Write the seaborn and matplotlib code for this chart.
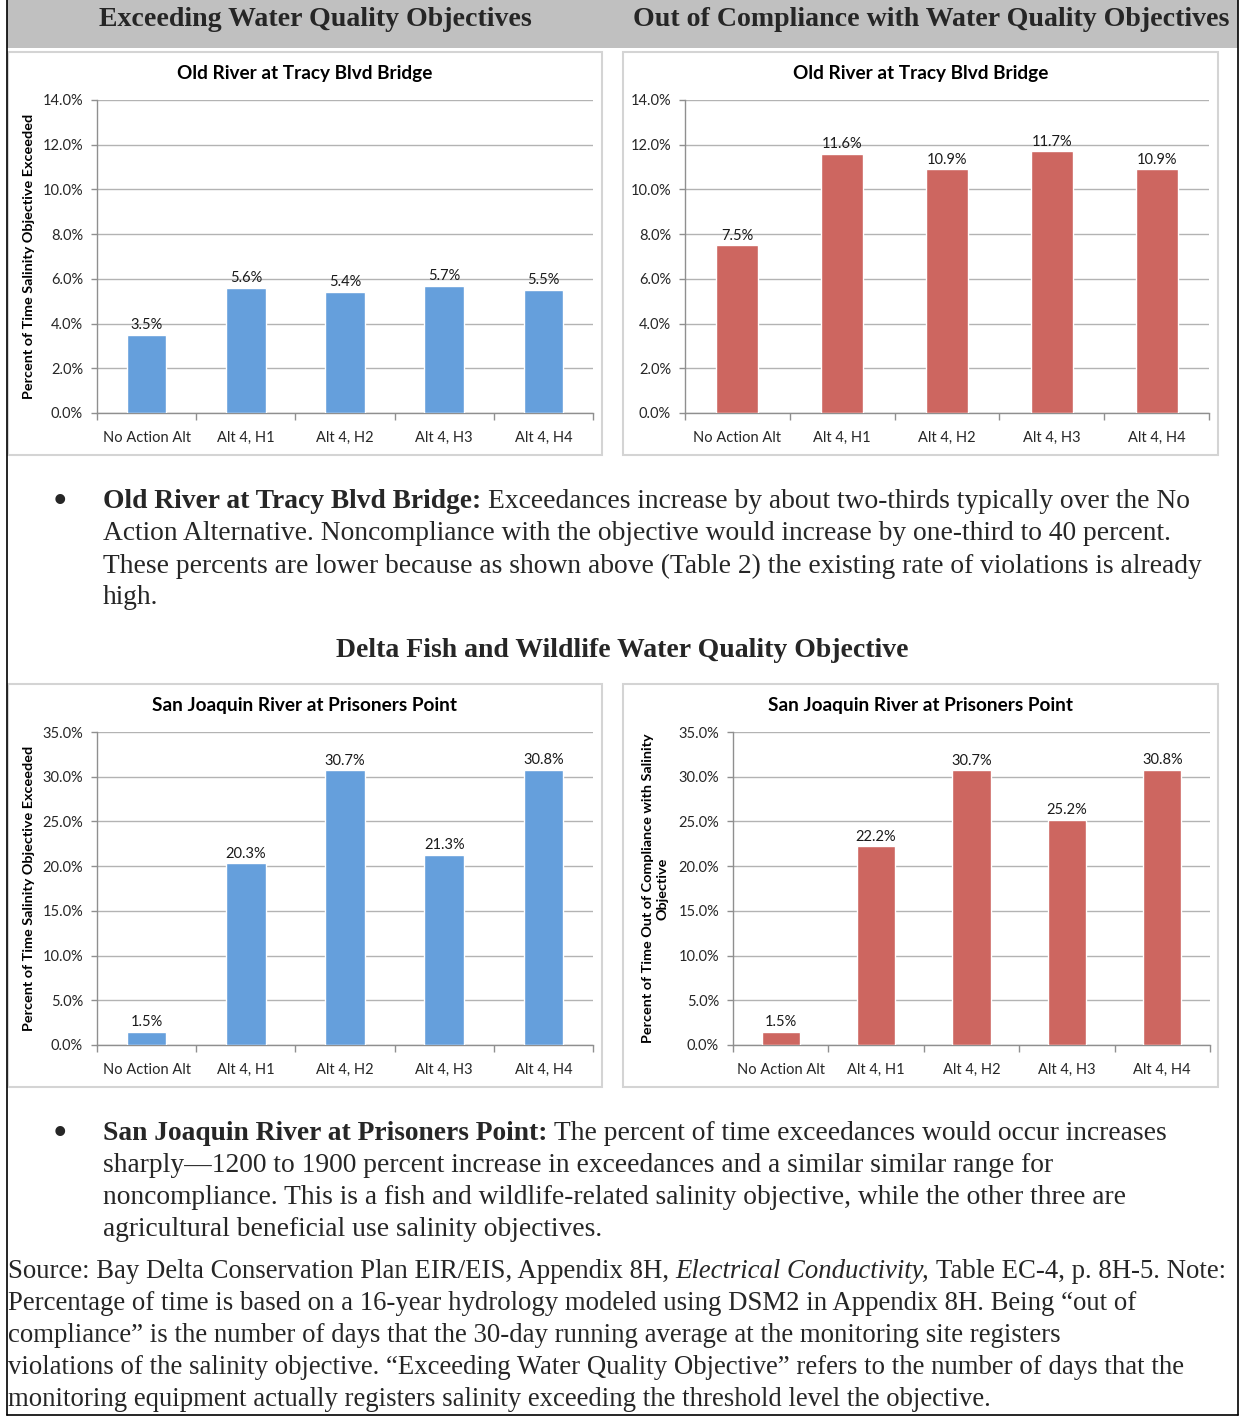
import matplotlib
matplotlib.use("Agg")
import matplotlib.pyplot as plt
import seaborn as sns
import pandas as pd
from matplotlib.patches import Rectangle
from matplotlib.lines import Line2D
from matplotlib.ticker import FuncFormatter, MultipleLocator

# chart data
categories = ["No Action Alt", "Alt 4, H1", "Alt 4, H2", "Alt 4, H3", "Alt 4, H4"]
tracy_exceed = [3.5, 5.6, 5.4, 5.7, 5.5]
tracy_noncomp = [7.5, 11.6, 10.9, 11.7, 10.9]
prisoners_exceed = [1.5, 20.3, 30.7, 21.3, 30.8]
prisoners_noncomp = [1.5, 22.2, 30.7, 25.2, 30.8]

BLUE = "#659FDC"
RED = "#CD6660"
SERIF = "Liberation Serif"
SANS = "Lato"

W, H = 1243, 1420

sns.set_theme(style="white")
plt.rcParams["font.family"] = [SANS, "DejaVu Sans"]

fig = plt.figure(figsize=(W / 100, H / 100), dpi=100)
fig.patch.set_facecolor("white")


def rect(x0, y0, x1, y1):
    # pixel box (top-left origin) -> figure fraction
    return [x0 / W, 1 - y1 / H, (x1 - x0) / W, (y1 - y0) / H]


def draw_chart(box, plot, values, color, ymax, step, title, ylabel, ylabel_x):
    bx0, by0, bx1, by1 = box
    fig.patches.append(Rectangle((bx0 / W, 1 - by1 / H), (bx1 - bx0) / W, (by1 - by0) / H,
                                 transform=fig.transFigure, facecolor="white",
                                 edgecolor="#d4d4d4", lw=1.5, zorder=-5))
    ax = fig.add_axes(rect(*plot))
    ax.patch.set_alpha(0)
    df = pd.DataFrame({"cat": categories, "val": values})
    sns.barplot(data=df, x="cat", y="val", color=color, saturation=1, width=0.4, ax=ax, zorder=3)
    ax.set_xlim(-0.5, len(categories) - 0.5)
    ax.set_ylim(0, ymax)
    ax.yaxis.set_major_locator(MultipleLocator(step))
    ax.yaxis.set_major_formatter(FuncFormatter(lambda v, p: f"{v:.1f}%"))
    ax.grid(axis="y", color="#b3b3b3", lw=1, zorder=0)
    ax.set_axisbelow(True)
    for s in ["top", "right"]:
        ax.spines[s].set_visible(False)
    for s in ["left", "bottom"]:
        ax.spines[s].set_color("#8f8f8f")
        ax.spines[s].set_linewidth(1)
    ax.tick_params(axis="y", length=4, width=1, color="#8f8f8f", pad=6, labelsize=10.5, left=True)
    ax.tick_params(axis="x", length=0, pad=13, labelsize=10.5)
    ax.set_xticks([i - 0.5 for i in range(len(categories) + 1)], minor=True)
    ax.tick_params(axis="x", which="minor", length=5, width=1, color="#8f8f8f", bottom=True)
    ax.set_xlabel("")
    ax.set_ylabel("")
    ax.bar_label(ax.containers[0], labels=[f"{v:.1f}%" for v in values], padding=2,
                 fontsize=10.5, color="#1a1a1a")
    fig.text((bx0 + bx1) / 2 / W, 1 - (by0 + 21) / H, title, ha="center", va="center",
             fontsize=13.7, fontweight="bold", color="black")
    cy = (plot[1] + plot[3]) / 2
    fig.text(ylabel_x / W, 1 - cy / H, ylabel, rotation=90, ha="center", va="center",
             fontsize=10.4, fontweight="bold", multialignment="center", color="black",
             linespacing=1.3)
    return ax


# page frame and header band
fig.patches.append(Rectangle((7 / W, 1 - 48 / H), (1238 - 7) / W, 48 / H, transform=fig.transFigure,
                             facecolor="#c0c0c0", edgecolor="none", zorder=-6))
for xs, ys in [([7, 7], [0, 1415]), ([1238, 1238], [0, 1415]), ([7, 1238], [1415, 1415])]:
    fig.add_artist(Line2D([x / W for x in xs], [1 - y / H for y in ys], color="black", lw=1.2))

fig.text(315 / W, 1 - 20 / H, "Exceeding Water Quality Objectives", ha="center", va="center",
         family=SERIF, fontweight="bold", fontsize=20.1)
fig.text(931 / W, 1 - 20 / H, "Out of Compliance with Water Quality Objectives", ha="center",
         va="center", family=SERIF, fontweight="bold", fontsize=20.1)

draw_chart((8, 52, 602, 455), (97, 100, 593, 413), tracy_exceed, BLUE, 14, 2,
           "Old River at Tracy Blvd Bridge", "Percent of Time Salinity Objective Exceeded", 29)
draw_chart((623, 52, 1218, 455), (685, 100, 1209, 413), tracy_noncomp, RED, 14, 2,
           "Old River at Tracy Blvd Bridge", "", 645)
draw_chart((8, 684, 602, 1087), (97, 732, 593, 1045), prisoners_exceed, BLUE, 35, 5,
           "San Joaquin River at Prisoners Point", "Percent of Time Salinity Objective Exceeded", 29)
draw_chart((623, 684, 1218, 1087), (733, 732, 1210, 1045), prisoners_noncomp, RED, 35, 5,
           "San Joaquin River at Prisoners Point",
           "Percent of Time Out of Compliance with Salinity\nObjective", 655)

fig.text(622 / W, 1 - 651 / H, "Delta Fish and Wildlife Water Quality Objective", ha="center",
         va="center", family=SERIF, fontweight="bold", fontsize=20)

renderer = fig.canvas.get_renderer()


def text_line(x, y, segments, size):
    # segments: list of (text, weight, style) drawn left to right
    gap = size * 100 / 72 * 0.25
    for txt, weight, style in segments:
        t = fig.text(x / W, 1 - y / H, txt, ha="left", va="center", family=SERIF,
                     fontsize=size, fontweight=weight, fontstyle=style)
        x = t.get_window_extent(renderer).x1 + gap


bullet1 = [
    [("Old River at Tracy Blvd Bridge:", "bold", "normal"),
     ("Exceedances increase by about two-thirds typically over the No", "normal", "normal")],
    [("Action Alternative. Noncompliance with the objective would increase by one-third to 40 percent.", "normal", "normal")],
    [("These percents are lower because as shown above (Table 2) the existing rate of violations is already", "normal", "normal")],
    [("high.", "normal", "normal")],
]
bullet2 = [
    [("San Joaquin River at Prisoners Point:", "bold", "normal"),
     ("The percent of time exceedances would occur increases", "normal", "normal")],
    [("sharply\u20141200 to 1900 percent increase in exceedances and a similar similar range for", "normal", "normal")],
    [("noncompliance. This is a fish and wildlife-related salinity objective, while the other three are", "normal", "normal")],
    [("agricultural beneficial use salinity objectives.", "normal", "normal")],
]
source = [
    [("Source: Bay Delta Conservation Plan EIR/EIS, Appendix 8H,", "normal", "normal"),
     ("Electrical Conductivity,", "normal", "italic"),
     ("Table EC-4, p. 8H-5. Note:", "normal", "normal")],
    [("Percentage of time is based on a 16-year hydrology modeled using DSM2 in Appendix 8H. Being \u201cout of", "normal", "normal")],
    [("compliance\u201d is the number of days that the 30-day running average at the monitoring site registers", "normal", "normal")],
    [("violations of the salinity objective. \u201cExceeding Water Quality Objective\u201d refers to the number of days that the", "normal", "normal")],
    [("monitoring equipment actually registers salinity exceeding the threshold level the objective.", "normal", "normal")],
]

for y0, lines in [(502, bullet1), (1134, bullet2)]:
    fig.text(60 / W, 1 - y0 / H, "\u2022", ha="center", va="center", family=SERIF,
             fontsize=26, fontweight="bold")
    for i, segs in enumerate(lines):
        text_line(103, y0 + 32 * i, segs, 19.8)

for i, segs in enumerate(source):
    text_line(8, 1272 + 32 * i, segs, 19.3)

fig.savefig("out.png", dpi=100)
